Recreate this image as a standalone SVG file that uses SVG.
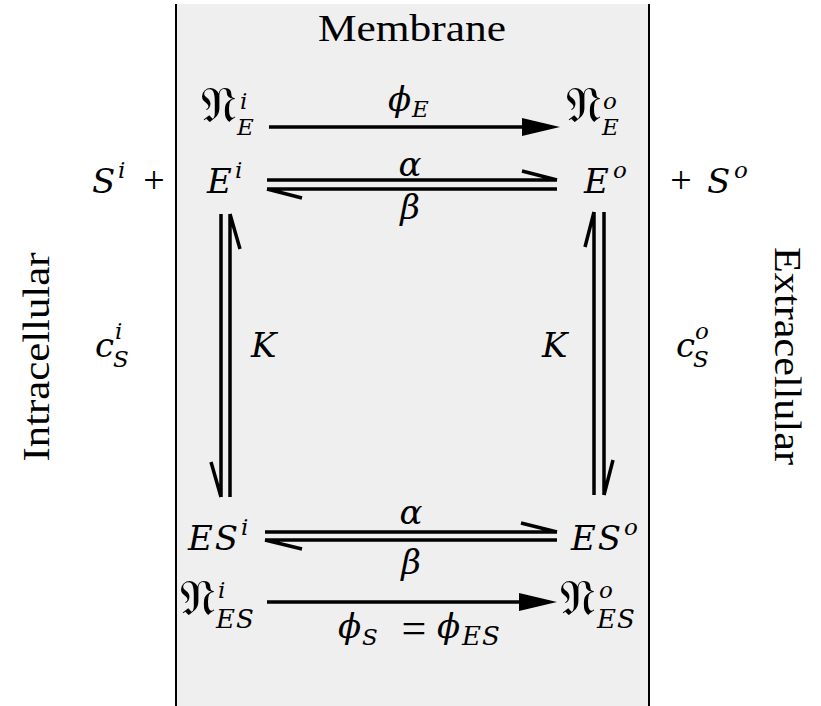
<svg xmlns="http://www.w3.org/2000/svg" width="821" height="706" viewBox="0 0 821 706">
<style>
.t{font-family:"Liberation Serif","DejaVu Serif",serif;fill:#000}
.m{font-family:"DejaVu Serif","Liberation Serif",serif;font-style:italic;fill:#000;font-size:34px}
.s{font-family:"DejaVu Serif","Liberation Serif",serif;font-style:italic;fill:#000;font-size:23px}
.es{font-size:26px;letter-spacing:1px}
.f{font-family:"DejaVu Sans","DejaVu Serif","Noto Sans",serif;fill:#000;font-size:50px}
.ln{stroke:#000;stroke-width:3.5;fill:none;stroke-linecap:butt}
.ah{fill:#000}
</style>
<rect x="176" y="4" width="473" height="702" fill="#efefef"/>
<line x1="176" y1="4" x2="176" y2="706" stroke="#000" stroke-width="2"/>
<line x1="649" y1="4" x2="649" y2="706" stroke="#000" stroke-width="2"/>
<g id="membrane-label"><text class="t" x="318" y="41" font-size="38" textLength="188" lengthAdjust="spacingAndGlyphs">Membrane</text></g>
<g id="intracellular-label"><text class="t" font-size="38" text-anchor="middle" textLength="209" lengthAdjust="spacingAndGlyphs" transform="translate(49,357) rotate(-90)">Intracellular</text></g>
<g id="extracellular-label"><text class="t" font-size="38" text-anchor="middle" textLength="218" lengthAdjust="spacingAndGlyphs" transform="translate(775,356) rotate(90)">Extracellular</text></g>

<g id="NEi"><text class="f" x="201" y="122">𝔑</text><text class="s" x="240" y="109">i</text><text class="s" x="237" y="135">E</text></g>
<g id="NEo"><text class="f" x="566" y="122">𝔑</text><text class="s" x="603" y="109">o</text><text class="s" x="602" y="135">E</text></g>
<g id="Ei"><text class="m" x="207" y="193" font-size="36">E</text><text class="s" x="235" y="178">i</text></g>
<g id="Eo"><text class="m" x="584" y="193" font-size="36">E</text><text class="s" x="613" y="178">o</text></g>
<g id="Si"><text class="m" x="92" y="193" font-size="36">S</text><text class="s" x="118" y="178">i</text><text class="t" font-size="38" x="154" y="193" text-anchor="middle">+</text></g>
<g id="So"><text class="t" font-size="38" x="681" y="193" text-anchor="middle">+</text><text class="m" x="707" y="193" font-size="36">S</text><text class="s" x="734" y="178">o</text></g>
<g id="cSi"><text class="m" x="95" y="357">c</text><text class="s" x="115" y="339">i</text><text class="s" x="113" y="367">S</text></g>
<g id="cSo"><text class="m" x="676" y="357">c</text><text class="s" x="695" y="339">o</text><text class="s" x="693" y="367">S</text></g>
<g id="ESi"><text class="m" x="188" y="550" font-size="37" letter-spacing="2">ES</text><text class="s" x="241" y="535">i</text></g>
<g id="ESo"><text class="m" x="571" y="550" font-size="37" letter-spacing="2">ES</text><text class="s" x="624" y="535">o</text></g>
<g id="NESi"><text class="f" x="180" y="615">𝔑</text><text class="s" x="218" y="598">i</text><text class="s es" x="216" y="628">ES</text></g>
<g id="NESo"><text class="f" x="560" y="615">𝔑</text><text class="s" x="599" y="598">o</text><text class="s es" x="597" y="628">ES</text></g>

<g id="connectors">
<line class="ln" x1="269" y1="127" x2="525" y2="127"/>
<polygon class="ah" points="522,118 560,127 522,136"/>
<text class="m" x="388" y="111">ϕ</text><text class="s" x="412" y="117">E</text>

<path class="ln" d="M267,180 H557 M557,180 L522,171"/>
<path class="ln" d="M557,189 H267 M267,189 L302,198"/>
<text class="m" x="410" y="176" text-anchor="middle">α</text>
<text class="m" x="410" y="219" text-anchor="middle">β</text>

<path class="ln" d="M221,214 V497 M221,497 L211,462"/>
<path class="ln" d="M230,497 V214 M230,214 L240,249"/>
<text class="m" x="251" y="357" font-size="36">K</text>

<path class="ln" d="M594,495 V212 M594,212 L585,247"/>
<path class="ln" d="M604,212 V495 M604,495 L613,460"/>
<text class="m" x="542" y="357" font-size="36">K</text>

<path class="ln" d="M265,532 H557 M557,532 L521,523"/>
<path class="ln" d="M557,540 H265 M265,540 L302,549"/>
<text class="m" x="411" y="524" text-anchor="middle">α</text>
<text class="m" x="411" y="574" text-anchor="middle">β</text>

<line class="ln" x1="267" y1="602" x2="522" y2="602"/>
<polygon class="ah" points="519,593 557,602 519,611"/>
<text class="m" x="338" y="638">ϕ</text><text class="s" x="362" y="645">S</text>
<text class="t" font-size="44" x="414" y="643" text-anchor="middle">=</text>
<text class="m" x="437" y="638">ϕ</text><text class="s es" x="462" y="645">ES</text>
</g>
</svg>
